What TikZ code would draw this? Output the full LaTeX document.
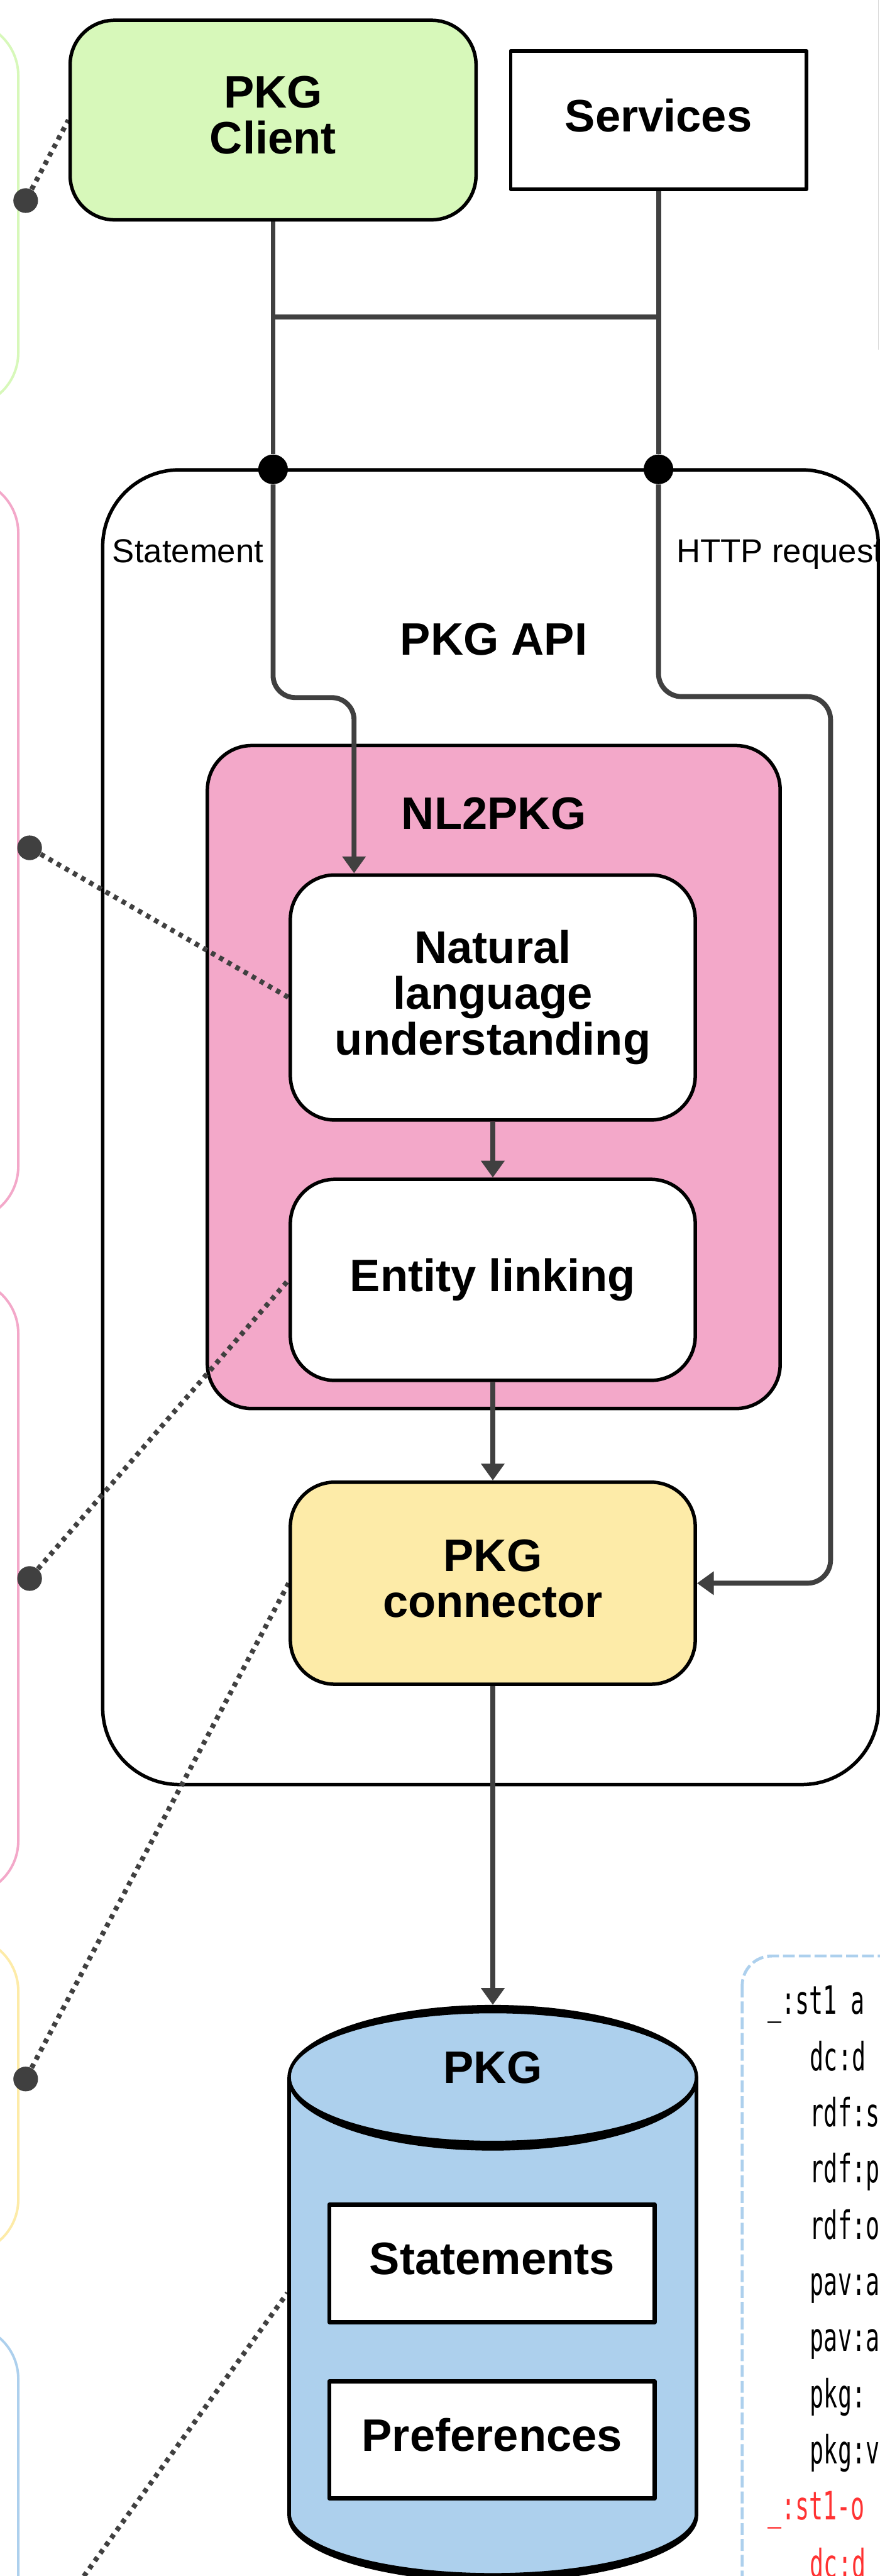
\documentclass[tikz,border=0pt]{standalone}
\usepackage{fontspec}
\setmainfont{Liberation Sans}
\newfontfamily\codefont[FakeStretch=0.59]{DejaVu Sans Mono}
\usetikzlibrary{arrows.meta}
\pgfdeclarelayer{bg}
\pgfdeclarelayer{mid}
\pgfsetlayers{bg,mid,main}
\definecolor{clientgreen}{HTML}{D7F8BA}
\definecolor{nlpink}{HTML}{F3A8C9}
\definecolor{connyellow}{HTML}{FDEBA8}
\definecolor{pkgblue}{HTML}{ADD0ED}
\definecolor{wiregray}{HTML}{404040}
\definecolor{codered}{HTML}{FF3333}

\begin{document}
\begin{tikzpicture}[
        box/.style={draw, line width=0.07cm, rounded corners=0.9cm, inner sep=0pt, align=center, text depth=0.2cm,
                font=\fontsize{26.2}{26.5}\selectfont\bfseries},
        title/.style={inner sep=0pt, anchor=base, font=\fontsize{26.2}{26.5}\selectfont\bfseries},
        tag/.style={inner sep=0pt, anchor=base west, font=\fontsize{19.1}{20}\selectfont},
        flow/.style={draw=wiregray, line width=0.1cm},
        anno/.style={draw=wiregray, line width=0.1cm, dash pattern=on 0.09cm off 0.1cm},
        annodot/.style={circle, fill=wiregray, minimum size=0.5cm, inner sep=0pt},
        joint/.style={circle, fill=black, minimum size=0.6cm, inner sep=0pt},
        note/.style={line width=0.05cm, rounded corners=1.1cm},
        code/.style={inner sep=0pt, anchor=base west, font=\codefont\fontsize{22.5}{24}\selectfont},
        >={Triangle[length=0.34cm,width=0.46cm]}, line join=round]
        \useasboundingbox (0cm, 0cm) rectangle (17.82cm, -52.14cm);
        \clip (0cm, 0cm) rectangle (17.82cm, -52.14cm);
        \begin{pgfonlayer}{bg}
                \clip (0cm, 0cm) rectangle (17.82cm, -52.14cm);
                \draw[note, draw=clientgreen] (-4cm, -0.43cm) rectangle (0.37cm, -8.24cm);
                \draw[note, draw=nlpink] (-4cm, -9.69cm) rectangle (0.37cm, -24.71cm);
                \draw[note, draw=nlpink] (-4cm, -25.89cm) rectangle (0.37cm, -38.36cm);
                \draw[note, draw=connyellow] (-4cm, -39.20cm) rectangle (0.37cm, -45.62cm);
                \draw[note, draw=pkgblue] (-4cm, -47.05cm) rectangle (0.37cm, -56cm);
                \draw[line width=0.06cm, draw=pkgblue, dash pattern=on 0.24cm off 0.08cm, rounded corners=0.6cm]
                        (15.03cm, -39.59cm) rectangle (20cm, -56cm);
                \draw[line width=0.02cm, black!15] (17.79cm, 0cm) -- (17.79cm, -7.08cm);
                \node (api) [box, fill=white, rounded corners=1.55cm, minimum width=15.71cm, minimum height=26.61cm] at (9.935cm, -22.815cm) {};
                \node (nl2pkg) [box, fill=nlpink, minimum width=11.6cm, minimum height=13.42cm] at (10.00cm, -21.80cm) {};
        \end{pgfonlayer}
        \node (client) [box, fill=clientgreen, minimum width=8.22cm, minimum height=4.04cm] at (5.53cm, -2.43cm) {PKG\\Client};
        \node (services) [box, fill=white, sharp corners, minimum width=5.99cm, minimum height=2.80cm] at (13.335cm, -2.43cm) {Services};
        \node (dotL) [joint] at (5.53cm, -9.50cm) {};
        \node (dotR) [joint] at (13.335cm, -9.50cm) {};
        \node (stmtag) [tag] at (2.27cm, -11.39cm) {Statement};
        \node (httptag) [tag] at (13.69cm, -11.39cm) {HTTP request};
        \node (apiname) [title] at (10.00cm, -13.26cm) {PKG API};
        \node (nl2pkgname) [title] at (10.00cm, -16.78cm) {NL2PKG};
        \node (nlu) [box, fill=white, minimum width=8.2cm, minimum height=4.96cm] at (9.98cm, -20.19cm) {Natural\\language\\understanding};
        \node (el) [box, fill=white, minimum width=8.2cm, minimum height=4.07cm] at (9.98cm, -25.905cm) {Entity linking};
        \node (conn) [box, fill=connyellow, minimum width=8.2cm, minimum height=4.09cm] at (9.98cm, -32.045cm) {PKG\\connector};
        % cylinder
        \fill[pkgblue] (5.855cm, -42.055cm) -- (5.855cm, -50.92cm)
                arc[start angle=180, end angle=360, x radius=4.125cm, y radius=1.3cm]
                -- (14.105cm, -42.055cm)
                arc[start angle=0, end angle=180, x radius=4.125cm, y radius=1.38cm] -- cycle;
        \draw[line width=0.07cm] (5.855cm, -42.055cm) -- (5.855cm, -50.92cm) (14.105cm, -42.055cm) -- (14.105cm, -50.92cm);
        \fill[even odd rule] (9.98cm, -42.055cm) ellipse [x radius=4.16cm, y radius=1.475cm]
                (9.98cm, -42.04cm) ellipse [x radius=4.09cm, y radius=1.29cm];
        \fill (5.82cm, -50.92cm) arc[start angle=180, end angle=360, x radius=4.16cm, y radius=1.34cm]
                -- (14.07cm, -50.87cm) arc[start angle=360, end angle=180, x radius=4.09cm, y radius=1.21cm] -- cycle;
        \coordinate (pkgtop) at (9.98cm, -40.58cm);
        \coordinate (pkgside) at (5.82cm, -46.41cm);
        \node (pkgname) [title] at (9.98cm, -42.17cm) {PKG};
        \node (stm) [box, fill=white, sharp corners, line width=0.085cm, minimum width=6.59cm, minimum height=2.38cm] at (9.965cm, -45.81cm) {Statements};
        \node (pref) [box, fill=white, sharp corners, line width=0.085cm, minimum width=6.59cm, minimum height=2.37cm] at (9.965cm, -49.385cm) {Preferences};
        % note dots
        \node (gdot) [annodot] at (0.52cm, -4.06cm) {};
        \node (pdot) [annodot] at (0.60cm, -17.16cm) {};
        \node (qdot) [annodot] at (0.60cm, -31.95cm) {};
        \node (ydot) [annodot] at (0.52cm, -42.08cm) {};
        \node (bdot) [annodot] at (0.55cm, -53.74cm) {};
        % turtle snippet
        \node (l1) [code] at (15.54cm, -40.77cm) {\_:st1 a};
        \node (l2) [code] at (16.40cm, -41.907cm) {dc:d};
        \node (l3) [code] at (16.40cm, -43.044cm) {rdf:s};
        \node (l4) [code] at (16.40cm, -44.181cm) {rdf:p};
        \node (l5) [code] at (16.40cm, -45.318cm) {rdf:o};
        \node (l6) [code] at (16.40cm, -46.455cm) {pav:a};
        \node (l7) [code] at (16.40cm, -47.592cm) {pav:a};
        \node (l8) [code] at (16.40cm, -48.729cm) {pkg:};
        \node (l9) [code] at (16.40cm, -49.866cm) {pkg:v};
        \node (l10) [code, text=codered] at (15.54cm, -51.003cm) {\_:st1-o};
        \node (l11) [code, text=codered] at (16.40cm, -52.17cm) {dc:d};
        \coordinate (barL) at (5.53cm, -6.42cm);
        \coordinate (barR) at (13.335cm, -6.42cm);
        \coordinate (sbend) at (7.17cm, -14.12cm);
        \coordinate (hbend) at (16.82cm, -14.10cm);
        \begin{pgfonlayer}{mid}
                \clip (0cm, 0cm) rectangle (17.82cm, -52.14cm);
                \draw[flow] (client) -- (dotL);
                \draw[flow] (services) -- (dotR);
                \draw[flow] (barL) -- (barR);
                \draw[flow, ->, rounded corners=0.45cm] (dotL) |- (sbend) -- (sbend |- nlu.north);
                \draw[flow, ->, rounded corners=0.47cm] (dotR) |- (hbend) |- (conn.east);
                \draw[flow, ->] (nlu) -- (el);
                \draw[flow, ->] (el) -- (conn);
                \draw[flow, ->] (conn) -- (pkgtop);
                \draw[anno] (gdot) -- (client.west);
                \draw[anno] (pdot) -- (nlu.west);
                \draw[anno] (qdot) -- (el.west);
                \draw[anno] (ydot) -- (conn.west);
                \draw[anno] (bdot) -- (pkgside);
        \end{pgfonlayer}
\end{tikzpicture}
\end{document}
